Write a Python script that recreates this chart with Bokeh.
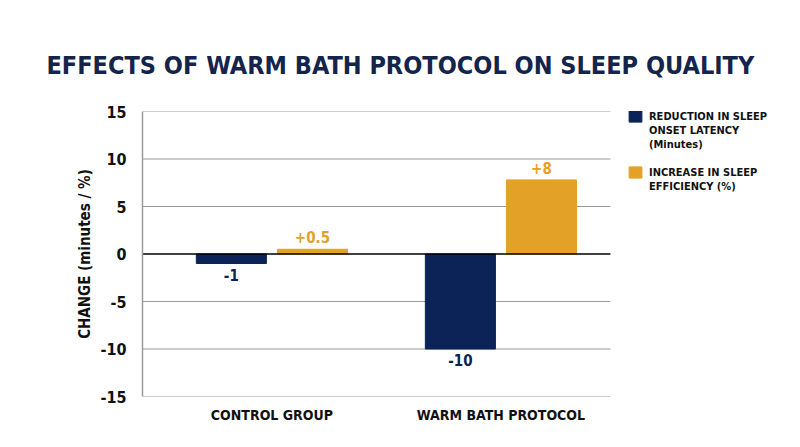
from bokeh.plotting import figure
from bokeh.models import (ColumnDataSource, FixedTicker, Legend, LegendItem, Range1d, Title)
from bokeh.core.properties import value
from bokeh.transform import dodge
from bokeh.embed import file_html
from bokeh.resources import INLINE

categories = ["CONTROL GROUP", "WARM BATH PROTOCOL"]
latency_reduction = [-1, -10]
efficiency_increase = [0.5, 7.8]
latency_labels = ["-1", "-10"]
efficiency_labels = ["+0.5", "+8"]
y_ticks = [-15, -10, -5, 0, 5, 10, 15]
series1_lines = ["REDUCTION IN SLEEP", "ONSET LATENCY", "(Minutes)"]
series2_lines = ["INCREASE IN SLEEP", "EFFICIENCY (%)"]

NAVY = "#0c2357"
GOLD = "#e4a127"
TITLE = "#15244b"
GRID = "#9a9a9a"
FONT = "DejaVu Sans Condensed"

X_START, X_PLOT_END, X_END = -0.565, 1.478, 2.308

xs = list(range(len(categories)))
src = ColumnDataSource(dict(
    x=xs, lat=latency_reduction, eff=efficiency_increase,
    lat_lab=latency_labels, eff_lab=efficiency_labels,
))

p = figure(width=800, height=447, output_backend="svg", toolbar_location=None,
           x_range=Range1d(X_START, X_END), y_range=Range1d(-15, 15),
           min_border_left=142, min_border_right=0, min_border_top=111, min_border_bottom=51)
p.outline_line_color = None
p.background_fill_color = "white"
p.border_fill_color = "white"

t = Title(text="EFFECTS OF WARM BATH PROTOCOL ON SLEEP QUALITY", align="left",
          text_font=FONT, text_font_size="25px", text_font_style="bold",
          text_color=TITLE, standoff=64, offset=-96)
p.add_layout(t, "above")

# grid lines only across the plotting area
grid_src = ColumnDataSource(dict(y=[v for v in y_ticks if v != 0],
                                 x0=[X_START] * (len(y_ticks) - 1),
                                 x1=[X_PLOT_END] * (len(y_ticks) - 1)))
p.segment(x0="x0", x1="x1", y0="y", y1="y", source=grid_src, line_color=GRID, line_width=1.2)

w = 0.306
off = 0.177
r1 = p.vbar(x=dodge("x", -off, range=p.x_range), top="lat", bottom=0, width=w,
            color=NAVY, source=src)
r2 = p.vbar(x=dodge("x", off, range=p.x_range), top="eff", bottom=0, width=w,
            color=GOLD, source=src)

# zero line
p.segment(x0=[X_START], x1=[X_PLOT_END], y0=[0], y1=[0], line_color="black", line_width=1.5)

p.text(x=dodge("x", -off, range=p.x_range), y="lat", text="lat_lab", source=src,
       text_align="center", text_baseline="top", y_offset=5,
       text_font=value(FONT), text_font_size="15px", text_font_style="bold", text_color=NAVY)
p.text(x=dodge("x", off, range=p.x_range), y="eff", text="eff_lab", source=src,
       text_align="center", text_baseline="bottom", y_offset=-6,
       text_font=value(FONT), text_font_size="15px", text_font_style="bold", text_color=GOLD)

# axes
p.yaxis.ticker = FixedTicker(ticks=y_ticks)
p.yaxis.major_label_overrides = {v: str(v) for v in y_ticks}
p.yaxis.axis_label = "CHANGE (minutes / %)"
p.yaxis.axis_label_text_font = FONT
p.yaxis.axis_label_text_font_size = "15px"
p.yaxis.axis_label_text_font_style = "bold"
p.yaxis.axis_label_text_color = "#111111"
p.yaxis.axis_label_standoff = 3
p.yaxis.major_label_text_font = FONT
p.yaxis.major_label_text_font_size = "16px"
p.yaxis.major_label_text_font_style = "bold"
p.yaxis.major_label_text_color = "#111111"
p.yaxis.major_label_standoff = 10
p.yaxis.major_tick_line_color = None
p.yaxis.minor_tick_line_color = None
p.yaxis.axis_line_color = GRID
p.yaxis.axis_line_width = 1.5

p.xaxis.ticker = FixedTicker(ticks=xs)
p.xaxis.major_label_overrides = {i: c for i, c in zip(xs, categories)}
p.xaxis.major_label_text_font = FONT
p.xaxis.major_label_text_font_size = "14px"
p.xaxis.major_label_text_font_style = "bold"
p.xaxis.major_label_text_color = "#111111"
p.xaxis.major_label_standoff = 4
p.xaxis.major_tick_line_color = None
p.xaxis.minor_tick_line_color = None
p.xaxis.axis_line_color = None

p.xgrid.grid_line_color = None
p.ygrid.grid_line_color = None

# legend: one row per text line, swatch on the first line of each series
blank = p.scatter(x=[], y=[], fill_alpha=0, line_alpha=0)
items = [LegendItem(label=series1_lines[0], renderers=[r1])]
items += [LegendItem(label=s, renderers=[blank]) for s in series1_lines[1:]]
items += [LegendItem(label=" ", renderers=[blank])]
items += [LegendItem(label=series2_lines[0], renderers=[r2])]
items += [LegendItem(label=s, renderers=[blank]) for s in series2_lines[1:]]

legend = Legend(items=items, location=(485, 203), border_line_color=None,
                background_fill_alpha=0,
                label_text_font=FONT, label_text_font_size="11px", label_text_font_style="bold",
                label_text_color="#111111", glyph_width=16, glyph_height=14,
                label_height=13, spacing=0, padding=0, margin=0, label_standoff=6)
p.add_layout(legend, "center")

open("out.html", "w").write(file_html(p, INLINE))
